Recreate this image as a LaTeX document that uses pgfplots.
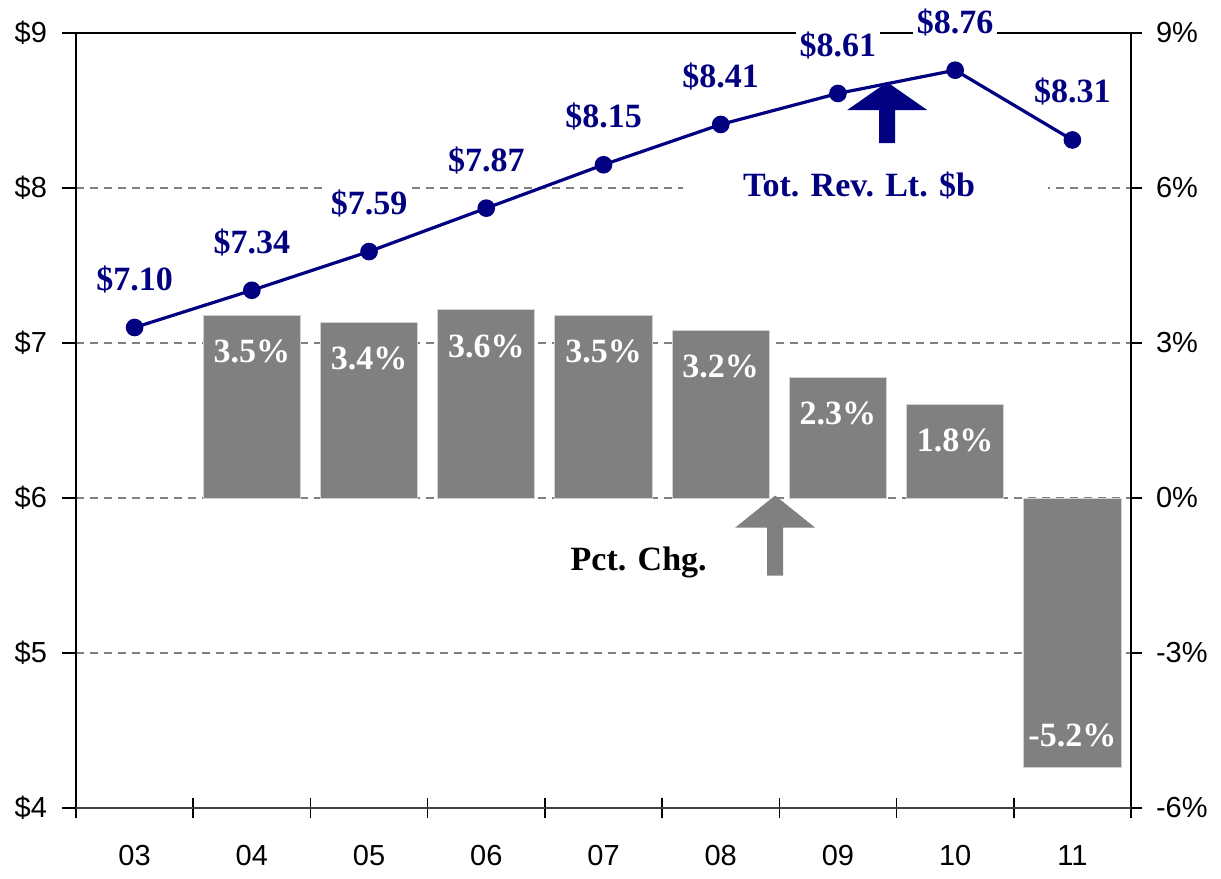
\documentclass[border=0pt]{standalone}
\usepackage{pgfplots}
\pgfplotsset{compat=1.18}
\usepackage{fontspec}
\setmainfont{Liberation Serif}
\newfontfamily\ticksf{Liberation Sans}
\definecolor{navy}{RGB}{0,0,128}
\definecolor{bargray}{RGB}{128,128,128}
\newcommand\lbl{\fontsize{17}{20}\selectfont\bfseries}

\pgfplotsset{
  common/.style={
    scale only axis, width=527.5pt, height=387.5pt,
    xmin=-0.5, xmax=8.5, clip=false,
    tick label style={font=\ticksf\fontsize{14.5}{16}\selectfont},
    tick style={black, line width=0.8pt},
    axis line style={line width=0.9pt},
  }
}

\begin{document}
\begin{tikzpicture}
% percent change (right axis), bars + grid + frame
\begin{axis}[common, name=ax,
  ymin=-6, ymax=9, ytick={-6,-3,...,9},
  yticklabels={-6\%,-3\%,0\%,3\%,6\%,9\%},
  ytick pos=right, yticklabel pos=right, ytick align=outside,
  yticklabel style={xshift=3.5pt},
  major tick length=5.5pt,
  xtick={0,...,8}, xticklabels={}, xmajorticks=false, xtick pos=bottom,
  minor xtick={-0.5,0.5,...,8.5}, minor tick length=10pt, xtick align=center,
  ymajorgrids, major grid style={gray, dash pattern=on 4pt off 3pt, line width=0.6pt},
]
\addplot[ybar, bar width=0.83, bar shift=0pt, fill=bargray, draw=gray!35, line width=0.5pt,
  nodes near coords, point meta=explicit symbolic,
  every node near coord/.append style={font=\lbl, text=white, anchor=center, yshift=-18pt}]
  coordinates {(1,3.54)[3.5\%] (2,3.40)[3.4\%] (3,3.64)[3.6\%] (4,3.53)[3.5\%]
               (5,3.24)[3.2\%] (6,2.33)[2.3\%] (7,1.81)[1.8\%]};
\addplot[ybar, bar width=0.83, bar shift=0pt, fill=bargray, draw=gray!35, line width=0.5pt,
  nodes near coords, point meta=explicit symbolic,
  every node near coord/.append style={font=\lbl, text=white, anchor=center, yshift=16pt}]
  coordinates {(8,-5.22)[-5.2\%]};
\end{axis}

% total revenue (left axis), line + annotations
\begin{axis}[common,
  ymin=4, ymax=9, ytick={4,...,9},
  yticklabels={\$4,\$5,\$6,\$7,\$8,\$9},
  yticklabel style={xshift=-4pt},
  axis y line*=left, axis x line*=bottom, ytick align=outside,
  major tick length=7pt,
  xtick={0,...,8}, xticklabels={03,04,05,06,07,08,09,10,11},
  xtick style={draw=none},
  xticklabel style={yshift=-15pt},
]
\draw[line width=1.4pt, black!75] (rel axis cs:0,0) -- (rel axis cs:1,0);
\fill[white] (axis cs:4.68,8.10) rectangle (axis cs:7.79,7.92);
\node[font=\lbl, text=navy] at (axis cs:6.18,8.018) {Tot. Rev. Lt. \$b};
\node[font=\lbl, text=black] at (axis cs:4.30,5.583) {Pct. Chg.};
\fill[bargray] (axis cs:5.464,6.016) -- (axis cs:5.805,5.809) -- (axis cs:5.532,5.809)
  -- (axis cs:5.532,5.499) -- (axis cs:5.396,5.499) -- (axis cs:5.396,5.809)
  -- (axis cs:5.123,5.809) -- cycle;
\addplot[navy, line width=1.6pt, mark=*, mark size=3.6pt, mark options={fill=navy},
  nodes near coords, point meta=explicit symbolic,
  every node near coord/.append style={font=\lbl, text=navy, fill=white, inner sep=2pt,
    anchor=center, yshift=24pt}]
  coordinates {(0,7.10)[\$7.10] (1,7.34)[\$7.34] (2,7.59)[\$7.59] (3,7.87)[\$7.87]
               (4,8.15)[\$8.15] (5,8.41)[\$8.41] (6,8.61)[\$8.61] (7,8.76)[\$8.76]
               (8,8.31)[\$8.31]};
\fill[navy] (axis cs:6.42,8.683) -- (axis cs:6.761,8.503) -- (axis cs:6.488,8.503)
  -- (axis cs:6.488,8.289) -- (axis cs:6.352,8.289) -- (axis cs:6.352,8.503)
  -- (axis cs:6.079,8.503) -- cycle;
\end{axis}
\pgfresetboundingbox
\path ([xshift=-38pt,yshift=-35pt]ax.south west) rectangle ([xshift=45pt,yshift=16.5pt]ax.north east);
\end{tikzpicture}
\end{document}
